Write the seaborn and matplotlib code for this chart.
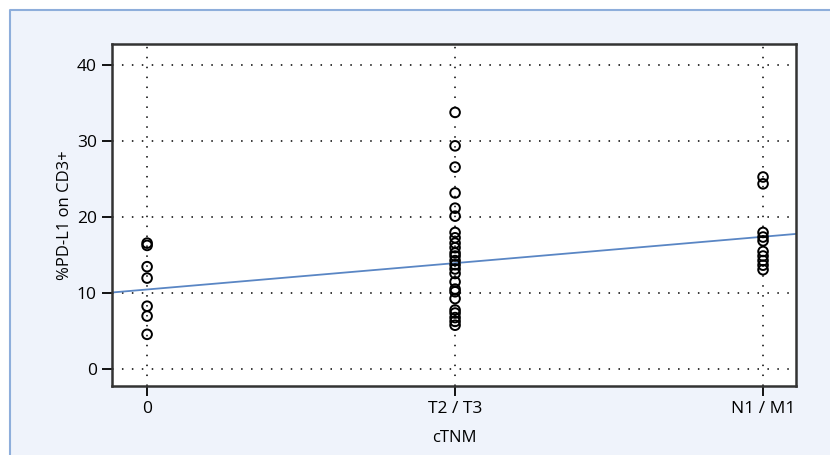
import matplotlib
matplotlib.use("Agg")
import matplotlib.pyplot as plt
import seaborn as sns
import pandas as pd
from matplotlib.patches import Rectangle
from matplotlib.lines import Line2D

# values
categories = ["0", "T2 / T3", "N1 / M1"]
pdl1_stage0 = [16.5, 16.2, 13.4, 11.9, 8.2, 6.9, 4.5]
pdl1_t2t3 = [33.7, 29.3, 26.5, 23.1, 21.1, 20.05, 17.9, 17.2, 16.5, 15.9, 15.2, 14.8,
             14.2, 13.65, 13.1, 12.5, 11.4, 10.45, 10.1, 9.2, 7.7, 7.3, 6.7, 6.2, 5.7]
pdl1_n1m1 = [25.2, 24.3, 17.9, 17.3, 16.8, 15.4, 14.8, 14.2, 13.6, 13.0]
y_ticks = [0, 10, 20, 30, 40]
# fitted trend line shown on the chart (per category step)
trend_intercept = 10.4
trend_slope = 3.47

groups = [pdl1_stage0, pdl1_t2t3, pdl1_n1m1]
df = pd.DataFrame({
    "pos": [i for i, g in enumerate(groups) for _ in g],
    "value": [v for g in groups for v in g],
})

sns.set_style("white")
plt.rcParams["font.family"] = ["Open Sans", "DejaVu Sans"]

fig = plt.figure(figsize=(8.3, 4.55), dpi=100)
fig.patch.set_facecolor("white")
# light panel; only left and top frame edges are inside the image
x0, y0 = 10 / 830, 1 - 10 / 455
fig.add_artist(Rectangle((x0, 0), 1 - x0, y0, transform=fig.transFigure,
                         facecolor="#eff3fb", edgecolor="none", zorder=0))
fig.add_artist(Line2D([x0, x0, 1], [0, y0, y0], transform=fig.transFigure,
                      color="#8eaedb", linewidth=1.5, zorder=0))

ax = fig.add_axes([112 / 830, 1 - 386 / 455, (796 - 112) / 830, (386 - 44) / 455])
ax.set_facecolor("white")

grid_kw = dict(color="black", linewidth=1.1, linestyle=(0, (1, 5.5)), zorder=1)
for yt in y_ticks:
    ax.axhline(yt, **grid_kw)
for xt in range(len(categories)):
    ax.axvline(xt, **grid_kw)

ax.axline((0, trend_intercept), slope=trend_slope, color="#5a86c4", linewidth=1.3, zorder=2)

sns.scatterplot(data=df, x="pos", y="value", ax=ax, s=48, facecolor="none",
                edgecolor="black", linewidth=1.4, zorder=3)

ax.set_xlim(-0.114, 2.107)
ax.set_ylim(-2.3, 42.7)
ax.set_xticks(range(len(categories)))
ax.set_xticklabels(categories)
ax.set_yticks(y_ticks)

ax.tick_params(axis="both", direction="out", length=7, width=1.3, color="black",
               labelsize=12.5, labelcolor="black", bottom=True, left=True, pad=4)
for sp in ax.spines.values():
    sp.set_color("#333333")
    sp.set_linewidth(1.8)

ax.set_xlabel("cTNM", fontsize=12, labelpad=9, color="black")
ax.set_ylabel("%PD-L1 on CD3+", fontsize=12, labelpad=3, color="black")

fig.savefig("out.png", dpi=100)
